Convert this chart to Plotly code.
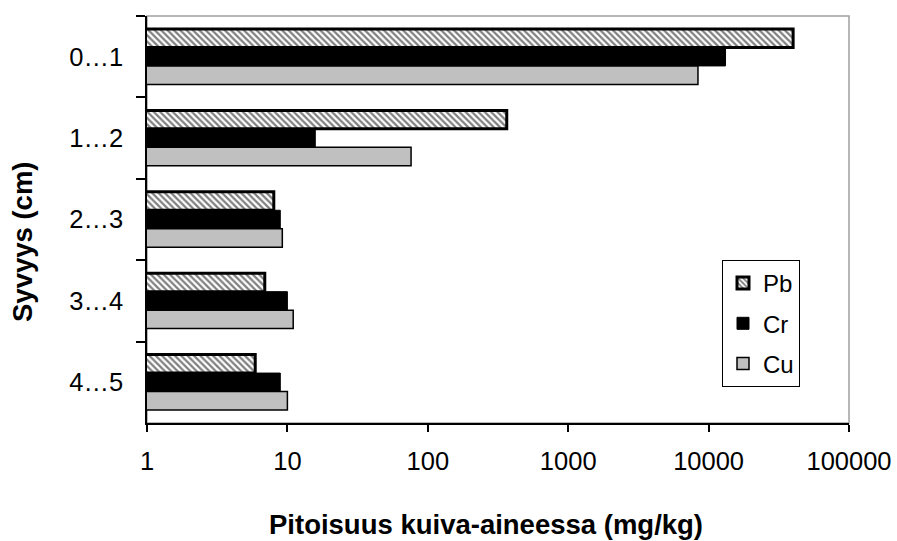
import plotly.graph_objects as go

# Depth intervals (top to bottom) and metal concentrations, mg/kg dry matter
depths = ["0…1", "1…2", "2…3", "3…4", "4…5"]
pb = [40000, 365, 8.0, 6.9, 5.9]
cr = [13200, 15.8, 8.9, 10.0, 8.9]
cu = [8400, 76, 9.2, 11.0, 10.0]

tick_vals = [1, 10, 100, 1000, 10000, 100000]
tick_text = ["1", "10", "100", "1000", "10000", "100000"]

x_title = "Pitoisuus kuiva-aineessa (mg/kg)"
y_title = "Syvyys (cm)"

FONT = "Liberation Sans, Arial, sans-serif"
TICK_SIZE = 25.5
TITLE_SIZE = 27.5

# page size and plot-area margins in pixels
W, H = 897, 541
L, R, T, B = 147, 48, 16, 118
pw, ph = W - L - R, H - T - B


def px_to_paper(px, py):
    """Convert page pixel coordinates to paper coordinates."""
    return (px - L) / pw, (H - B - py) / ph


fig = go.Figure()
fig.add_trace(go.Bar(
    name="Pb", y=depths, x=pb, orientation="h", legendgroup="pb",
    marker=dict(
        color="white",
        line=dict(color="black", width=3),
        pattern=dict(shape="\\", fgcolor="black", bgcolor="white",
                     size=4.5, solidity=0.5),
    ),
))
fig.add_trace(go.Bar(
    name="Cr", y=depths, x=cr, orientation="h", legendgroup="cr",
    marker=dict(color="black", line=dict(color="black", width=1)),
))
fig.add_trace(go.Bar(
    name="Cu", y=depths, x=cu, orientation="h", legendgroup="cu",
    marker=dict(color="#c0c0c0", line=dict(color="black", width=1.5)),
))

xt_x, xt_y = px_to_paper(486, 524)
yt_x, yt_y = px_to_paper(22.5, 241.5)
lg_x, lg_y = px_to_paper(722, 260)

fig.update_layout(
    width=W, height=H,
    margin=dict(l=L, r=R, t=T, b=B, autoexpand=False),
    paper_bgcolor="white", plot_bgcolor="white",
    barmode="group", bargap=0.32, bargroupgap=0,
    font=dict(family=FONT, size=TICK_SIZE, color="black"),
    showlegend=True,
    legend=dict(
        x=lg_x, y=lg_y, xanchor="left", yanchor="top",
        bordercolor="black", borderwidth=1, bgcolor="white",
        font=dict(size=24), itemwidth=30,
        tracegroupgap=6,
    ),
    shapes=[dict(
        type="rect", xref="paper", yref="paper", x0=0, x1=1, y0=0, y1=1,
        line=dict(color="#a0a0a0", width=1.5), layer="below",
    )],
    annotations=[
        dict(text="<b>" + x_title + "</b>", x=xt_x, y=xt_y,
             xref="paper", yref="paper", xanchor="center", yanchor="middle",
             showarrow=False, font=dict(size=TITLE_SIZE)),
        dict(text="<b>" + y_title + "</b>", x=yt_x, y=yt_y,
             xref="paper", yref="paper", xanchor="center", yanchor="middle",
             showarrow=False, textangle=-90, font=dict(size=TITLE_SIZE)),
    ],
)

fig.update_xaxes(
    type="log", range=[0, 5], automargin=False,
    tickvals=tick_vals, ticktext=tick_text,
    showgrid=False, zeroline=False,
    showline=True, linecolor="black", linewidth=1.5,
    ticks="outside", ticklen=7, tickcolor="black", tickwidth=1.5,
    ticklabelstandoff=8,
    tickfont=dict(size=TICK_SIZE),
)
fig.update_yaxes(
    type="category", autorange="reversed", automargin=False,
    showgrid=False, zeroline=False,
    showline=True, linecolor="black", linewidth=1.5,
    ticks="outside", tickson="boundaries", ticklen=9,
    tickcolor="black", tickwidth=1.5,
    ticklabelstandoff=17,
    tickfont=dict(size=TICK_SIZE),
)

fig.write_html("out.html")
